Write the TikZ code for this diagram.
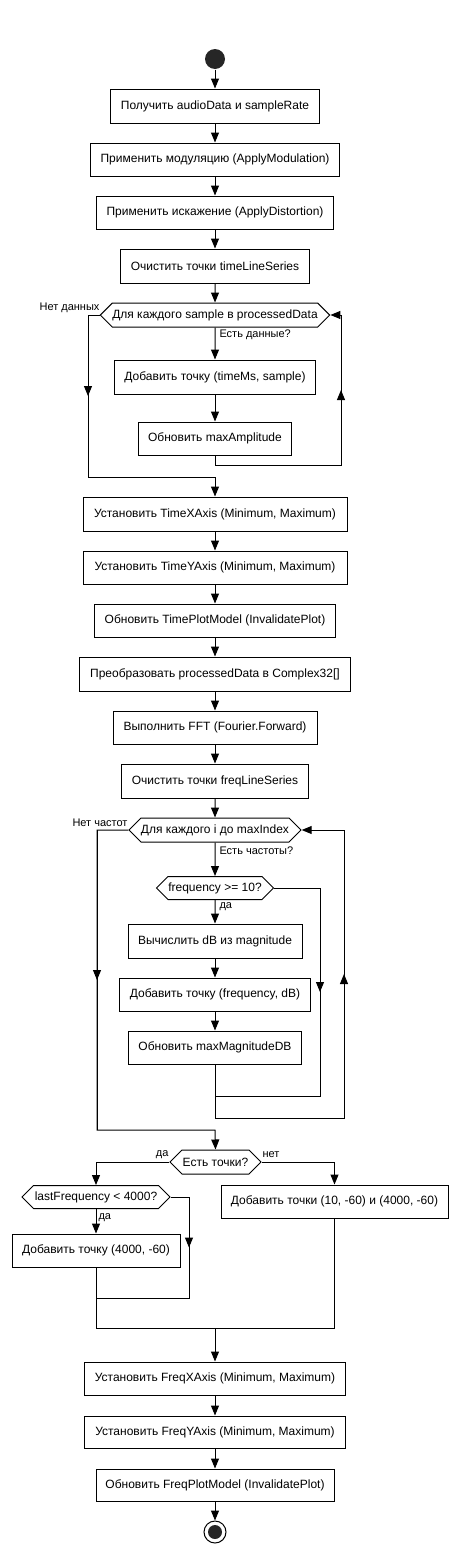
\documentclass[tikz,border=0pt]{standalone}
\usepackage{fontspec}
\setmainfont{Liberation Sans}
\usetikzlibrary{arrows.meta,shapes.symbols,decorations.markings}
\begin{document}
\begin{tikzpicture}[x=1pt,y=-1pt,
  line width=1pt,
  >={Triangle[width=8pt,length=10pt]},
  box/.style={draw, rectangle, inner sep=0pt, font=\fontsize{12}{14}\selectfont},
  hexa/.style={draw, signal, signal to=west and east, signal pointer angle=90, inner sep=0pt, font=\fontsize{12}{14}\selectfont},
  lbl/.style={inner sep=0pt, font=\fontsize{11}{13}\selectfont},
  flow/.style={->},
  midarrow/.style={postaction={decorate}, decoration={markings, mark=at position 0.5 with {\arrow{>}}}}
  ]
\useasboundingbox (0,0) rectangle (458,1553);
% start
\node[circle, fill=black!85, minimum size=20pt, inner sep=0pt] (start) at (215,59) {};
\node[box, minimum width=209pt, minimum height=34pt] (b1) at (215,106) {Получить audioData и sampleRate};
\node[box, minimum width=249pt, minimum height=33pt] (b2) at (215,159.5) {Применить модуляцию (ApplyModulation)};
\node[box, minimum width=237pt, minimum height=33pt] (b3) at (215,212.5) {Применить искажение (ApplyDistortion)};
\node[box, minimum width=189pt, minimum height=34pt] (b4) at (215,266) {Очистить точки timeLineSeries};
\node[hexa, minimum width=229pt, minimum height=24pt] (h1) at (215,315) {Для каждого sample в processedData};
\node[box, minimum width=201pt, minimum height=34pt] (b6) at (215,377) {Добавить точку (timeMs, sample)};
\node[box, minimum width=153pt, minimum height=33pt] (b7) at (215,438.5) {Обновить maxAmplitude};
\node[box, minimum width=264pt, minimum height=34pt] (b5) at (215,514) {Установить TimeXAxis (Minimum, Maximum)};
\node[box, minimum width=264pt, minimum height=33pt] (b8) at (215,567.5) {Установить TimeYAxis (Minimum, Maximum)};
\node[box, minimum width=241pt, minimum height=33pt] (b9) at (215,620.5) {Обновить TimePlotModel (InvalidatePlot)};
\node[box, minimum width=271pt, minimum height=34pt] (b10) at (215,674) {Преобразовать processedData в Complex32[]};
\node[box, minimum width=204pt, minimum height=33pt] (b11) at (215,727.5) {Выполнить FFT (Fourier.Forward)};
\node[box, minimum width=187pt, minimum height=34pt] (b12) at (215,781) {Очистить точки freqLineSeries};
\node[hexa, minimum width=172pt, minimum height=24pt] (h2) at (215,830) {Для каждого i до maxIndex};
\node[hexa, minimum width=117pt, minimum height=23pt] (h3) at (215,888) {frequency >= 10?};
\node[box, minimum width=174pt, minimum height=34pt] (b13) at (215,941) {Вычислить dB из magnitude};
\node[box, minimum width=191pt, minimum height=33pt] (b14) at (215,994.5) {Добавить точку (frequency, dB)};
\node[box, minimum width=173pt, minimum height=33pt] (b15) at (215,1047.5) {Обновить maxMagnitudeDB};
\node[hexa, minimum width=91pt, minimum height=24pt] (h4) at (215.5,1162) {Есть точки?};
\node[hexa, minimum width=148pt, minimum height=23pt] (h5) at (96,1197) {lastFrequency < 4000?};
\node[box, minimum width=168pt, minimum height=33pt] (b16) at (96,1250.5) {Добавить точку (4000, -60)};
\node[box, minimum width=227pt, minimum height=33pt] (b17) at (334.5,1201.5) {Добавить точки (10, -60) и (4000, -60)};
\node[box, minimum width=261pt, minimum height=33pt] (b18) at (215,1378.5) {Установить FreqXAxis (Minimum, Maximum)};
\node[box, minimum width=261pt, minimum height=32pt] (b19) at (215,1432) {Установить FreqYAxis (Minimum, Maximum)};
\node[box, minimum width=238pt, minimum height=32pt] (b20) at (215,1485) {Обновить FreqPlotModel (InvalidatePlot)};
\node[circle, draw, line width=1pt, minimum size=22pt, inner sep=0pt] (stop) at (215,1532) {};
\node[circle, fill=black!85, minimum size=14pt, inner sep=0pt] (stopdot) at (stop.center) {};
% labels
\node[lbl, anchor=east] (l1) at (100,308) {Нет данных};
\node[lbl, anchor=west] (l2) at (219,335) {Есть данные?};
\node[lbl, anchor=east] (l3) at (128,823) {Нет частот};
\node[lbl, anchor=west] (l4) at (219,851) {Есть частоты?};
\node[lbl, anchor=west] (l5) at (219,907) {да};
\node[lbl, anchor=east] (l6) at (169,1155) {да};
\node[lbl, anchor=west] (l7) at (262,1155) {нет};
\node[lbl, anchor=west] (l8) at (98,1218) {да};
% coordinates
\coordinate (c1a) at (215,465);
\coordinate (c1b) at (341,465);
\coordinate (c1c) at (341,315);
\coordinate (c2a) at (88,315);
\coordinate (c2b) at (88,477);
\coordinate (c2c) at (215,477);
\coordinate (c3a) at (320,888);
\coordinate (c3b) at (320,1096);
\coordinate (c3c) at (215,1096);
\coordinate (c4a) at (215,1118);
\coordinate (c4b) at (344,1118);
\coordinate (c4c) at (344,830);
\coordinate (c5a) at (97,830);
\coordinate (c5b) at (97,1130);
\coordinate (c5c) at (215,1130);
\coordinate (c6a) at (96,1162);
\coordinate (c7a) at (334.5,1162);
\coordinate (c8a) at (189,1197);
\coordinate (c8b) at (189,1298);
\coordinate (c8c) at (96,1298);
\coordinate (c9a) at (96,1328);
\coordinate (c9b) at (334.5,1328);
\coordinate (c9c) at (215,1328);
% connectors
\draw[flow] (start) -- (b1);
\draw[flow] (b1) -- (b2);
\draw[flow] (b2) -- (b3);
\draw[flow] (b3) -- (b4);
\draw[flow] (b4) -- (h1);
\draw[flow] (h1) -- (b6);
\draw[flow] (b6) -- (b7);
\draw[flow] (b7.south) -- (c1a) -- (c1b) -- (c1c) -- (h1.east);
\draw[midarrow] (c1b) -- (c1c);
\draw[flow] (h1.west) -- (c2a) -- (c2b) -- (c2c) -- (b5.north);
\draw[midarrow] (c2a) -- (c2b);
\draw[flow] (b5) -- (b8);
\draw[flow] (b8) -- (b9);
\draw[flow] (b9) -- (b10);
\draw[flow] (b10) -- (b11);
\draw[flow] (b11) -- (b12);
\draw[flow] (b12) -- (h2);
\draw[flow] (h2) -- (h3);
\draw[flow] (h3) -- (b13);
\draw[flow] (b13) -- (b14);
\draw[flow] (b14) -- (b15);
\draw (h3.east) -- (c3a) -- (c3b) -- (c3c);
\draw[midarrow] (c3a) -- (c3b);
\draw[flow] (b15.south) -- (c4a) -- (c4b) -- (c4c) -- (h2.east);
\draw[midarrow] (c4b) -- (c4c);
\draw[flow] (h2.west) -- (c5a) -- (c5b) -- (c5c) -- (h4.north);
\draw[midarrow] (c5a) -- (c5b);
\draw[flow] (h4.west) -- (c6a) -- (h5.north);
\draw[flow] (h4.east) -- (c7a) -- (b17.north);
\draw[flow] (h5.south) -- (b16.north);
\draw (h5.east) -- (c8a) -- (c8b) -- (c8c);
\draw[midarrow] (c8a) -- (c8b);
\draw (b16.south) -- (c9a) -- (c9b) -- (b17.south);
\draw[flow] (c9c) -- (b18.north);
\draw[flow] (b18) -- (b19);
\draw[flow] (b19) -- (b20);
\draw[flow] (b20) -- (stop);
\end{tikzpicture}
\end{document}
